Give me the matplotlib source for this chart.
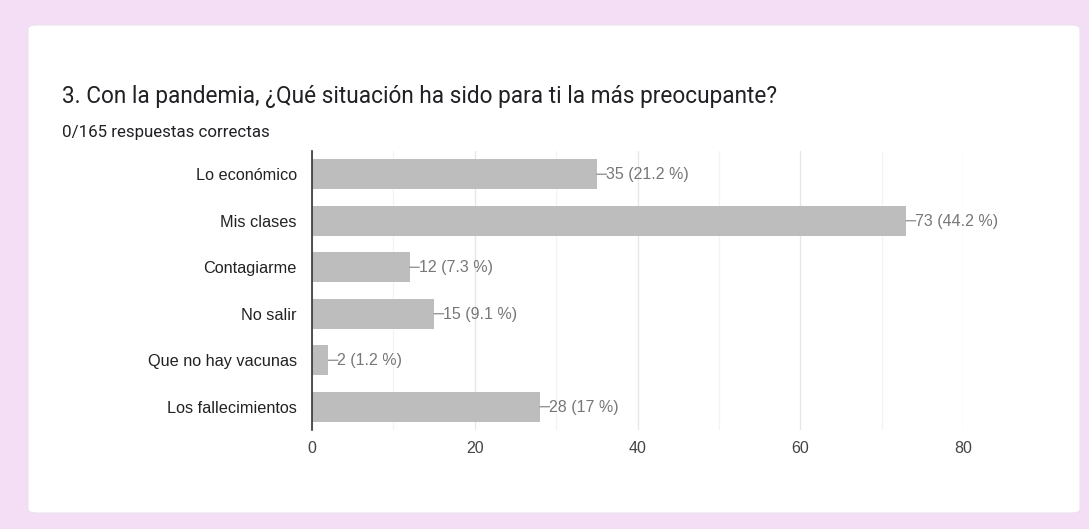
import matplotlib.pyplot as plt
from matplotlib.patches import FancyBboxPatch

# respuestas por opcion
categories = ['Lo económico', 'Mis clases', 'Contagiarme', 'No salir',
              'Que no hay vacunas', 'Los fallecimientos']
counts = [35, 73, 12, 15, 2, 28]
total = 165
xticks = [0, 20, 40, 60, 80]

title = '3. Con la pandemia, ¿Qué situación ha sido para ti la más preocupante?'
subtitle = '0/165 respuestas correctas'


def pct_label(n):
    p = round(100 * n / total, 1)
    s = ('%.1f' % p).rstrip('0').rstrip('.')
    return '%d (%s %%)' % (n, s)


fig = plt.figure(figsize=(10.89, 5.29), dpi=100)
fig.patch.set_facecolor('#f4def5')

# tarjeta blanca
card = FancyBboxPatch((28 / 1089, 1 - 513 / 529), (1080 - 28) / 1089, (513 - 25) / 529,
                      boxstyle='round,pad=0,rounding_size=0.008',
                      transform=fig.transFigure, facecolor='white',
                      edgecolor='#ebe3ec', linewidth=0.8, zorder=0)
fig.patches.append(card)

fig.text(62 / 1089, 1 - 97 / 529, title, fontsize=16.3, family='Roboto',
         color='#202124', va='center', ha='left')
fig.text(62 / 1089, 1 - 133 / 529, subtitle, fontsize=12.2, family='Roboto',
         color='#202124', va='center', ha='left')

ax = fig.add_axes([312 / 1089, 1 - 430 / 529, (963 - 312) / 1089, (430 - 151) / 529])
ax.set_facecolor('none')
ax.set_zorder(2)

y = list(range(len(categories)))
ax.barh(y, counts, height=0.65, color='#bdbdbd', zorder=2)

# linea guia + etiqueta de valor
for i, n in enumerate(counts):
    ax.annotate('', xy=(n, i), xytext=(7, 0), textcoords='offset points',
                arrowprops=dict(arrowstyle='-', color='#8a8a8a', lw=0.9,
                                shrinkA=0, shrinkB=0))
    ax.annotate(pct_label(n), xy=(n, i), xytext=(6.5, -0.5), textcoords='offset points',
                va='center', ha='left', fontsize=11.5, family='Liberation Sans',
                color='#777777')

ax.set_xlim(0, 80)
ax.set_ylim(len(categories) - 0.5, -0.5)
ax.set_yticks(y)
ax.set_yticklabels(categories, fontsize=11.7, family='Liberation Sans', color='#222222')
ax.set_xticks(xticks)
ax.set_xticklabels([str(t) for t in xticks], fontsize=11.5,
                   family='Liberation Sans', color='#444444')
ax.set_xticks(range(10, 80, 20), minor=True)

ax.grid(axis='x', which='major', color='#e6e6e6', lw=0.9, zorder=0)
ax.grid(axis='x', which='minor', color='#f3f3f3', lw=0.9, zorder=0)
ax.tick_params(axis='both', which='both', length=0)
ax.tick_params(axis='y', pad=11)
ax.tick_params(axis='x', pad=8)

for side in ['top', 'right', 'bottom']:
    ax.spines[side].set_visible(False)
ax.spines['left'].set_color('#333333')
ax.spines['left'].set_linewidth(1.2)
ax.spines['left'].set_zorder(3)

fig.savefig('out.png', dpi=100, facecolor=fig.get_facecolor())
